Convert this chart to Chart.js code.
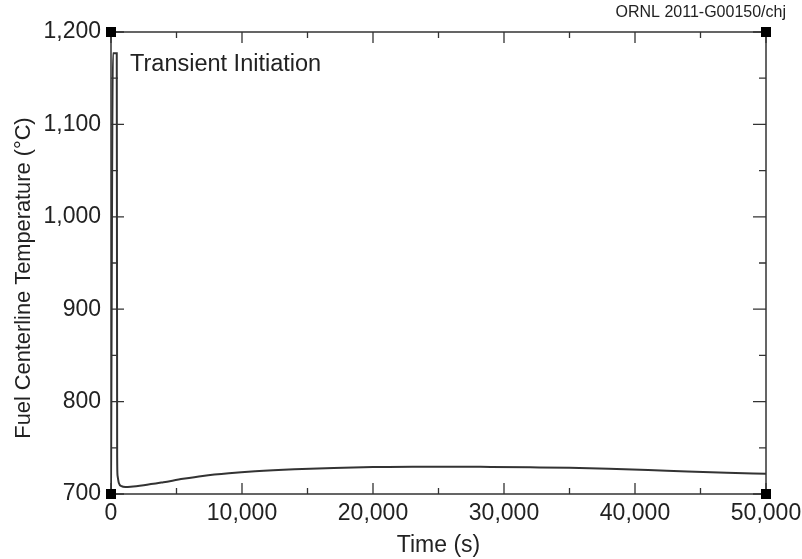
<!DOCTYPE html>
<html>
<head>
<meta charset="utf-8">
<script src="https://cdn.jsdelivr.net/npm/chart.js@4.4.1/dist/chart.umd.min.js"></script>
<style>
  html, body { margin: 0; padding: 0; background: #ffffff; }
  #wrap { position: relative; width: 802px; height: 559px; }
</style>
</head>
<body>
<div id="wrap"><canvas id="c" width="802" height="559"></canvas></div>
<script>
// Fuel centerline temperature history after the transient initiation
const timeSeconds = [0, 150, 440, 470, 500, 600, 800, 1100, 1500, 2500, 4000, 5500, 7000, 9000,
  11000, 14000, 17000, 20000, 23000, 26000, 29000, 32000, 35000, 38000, 41000, 44000, 47000, 50000];
const temperatureC = [705, 1177, 1177, 740, 720, 712, 708.5, 707.5, 707.8, 709.5, 712.8, 716.4, 719.5, 722.4,
  724.5, 726.7, 728.2, 729.1, 729.6, 729.6, 729.3, 728.9, 728.4, 727.4, 726, 724.3, 723, 722];

const xTickValues = [0, 10000, 20000, 30000, 40000, 50000];
const yTickValues = [700, 800, 900, 1000, 1100, 1200];

const yAxisTitle = 'Fuel Centerline Temperature (\u00B0C)';
const annotationText = 'Transient Initiation';
const creditText = 'ORNL 2011-G00150/chj';

const FONT = "'Liberation Sans', Arial, Helvetica, sans-serif";
const INK = '#222222';

const points = timeSeconds.map((t, i) => ({ x: t, y: temperatureC[i] }));

// Frame, inward tick marks, corner squares and text annotations
const framePlugin = {
  id: 'frame',
  afterDatasetsDraw(chart) {
    const { ctx, chartArea: a, scales } = chart;
    const xs = scales.x, ys = scales.y;
    ctx.save();
    ctx.strokeStyle = '#333333';
    ctx.lineWidth = 1.5;
    ctx.strokeRect(a.left, a.top, a.right - a.left, a.bottom - a.top);

    ctx.lineWidth = 1.3;
    ctx.beginPath();
    xs.ticks.forEach(t => {
      const px = xs.getPixelForValue(t.value);
      const len = xTickValues.includes(t.value) ? 11 : 6;
      ctx.moveTo(px, a.bottom); ctx.lineTo(px, a.bottom - len);
      ctx.moveTo(px, a.top); ctx.lineTo(px, a.top + len);
    });
    ys.ticks.forEach(t => {
      const py = ys.getPixelForValue(t.value);
      const len = yTickValues.includes(t.value) ? 13 : 7;
      ctx.moveTo(a.left, py); ctx.lineTo(a.left + len, py);
      ctx.moveTo(a.right, py); ctx.lineTo(a.right - len, py);
    });
    ctx.stroke();

    ctx.fillStyle = '#000000';
    const s = 10;
    [[a.left, a.top], [a.right, a.top], [a.left, a.bottom], [a.right, a.bottom]].forEach(([cx, cy]) => {
      ctx.fillRect(cx - s / 2, cy - s / 2, s, s);
    });

    ctx.fillStyle = INK;
    ctx.font = '23.5px ' + FONT;
    ctx.textAlign = 'left';
    ctx.textBaseline = 'middle';
    ctx.fillText(annotationText, 130, 65);

    ctx.font = '16px ' + FONT;
    ctx.textAlign = 'right';
    ctx.fillText(creditText, 786, 13);

    // vertical axis title
    ctx.save();
    ctx.translate(24, 278);
    ctx.rotate(-Math.PI / 2);
    ctx.textAlign = 'center';
    ctx.font = '21.8px ' + FONT;
    ctx.fillText(yAxisTitle, 0, 0);
    ctx.restore();

    ctx.restore();
  }
};

new Chart(document.getElementById('c'), {
  type: 'line',
  data: {
    datasets: [{
      data: points,
      borderColor: '#333333',
      borderWidth: 2,
      pointRadius: 0,
      fill: false,
      cubicInterpolationMode: 'monotone'
    }]
  },
  options: {
    responsive: false,
    animation: false,
    events: [],
    layout: { padding: { top: 32, right: 36, bottom: 0, left: 0 } },
    plugins: { legend: { display: false }, tooltip: { enabled: false } },
    scales: {
      x: {
        type: 'linear',
        min: 0, max: 50000,
        afterFit(scale) {
          scale.height = 65;
          scale.paddingLeft = 0;
          scale.paddingRight = 0;
        },
        grid: { display: false, drawTicks: false },
        border: { display: false },
        ticks: {
          stepSize: 5000,
          autoSkip: false,
          maxRotation: 0,
          padding: 6,
          color: INK,
          font: { family: FONT, size: 23 },
          callback: v => xTickValues.includes(v) ? v.toLocaleString('en-US') : ''
        },
        title: {
          display: true,
          text: 'Time (s)',
          color: INK,
          font: { family: FONT, size: 23 },
          padding: { top: 0, bottom: 0 }
        }
      },
      y: {
        type: 'linear',
        min: 700, max: 1200,
        afterFit(scale) {
          scale.width = 111;
          scale.paddingTop = 0;
          scale.paddingBottom = 0;
        },
        grid: { display: false, drawTicks: false },
        border: { display: false },
        ticks: {
          stepSize: 50,
          autoSkip: false,
          padding: 10,
          color: INK,
          font: { family: FONT, size: 23 },
          callback: v => yTickValues.includes(v) ? v.toLocaleString('en-US') : ''
        },
        title: { display: false }
      }
    }
  },
  plugins: [framePlugin]
});
</script>
</body>
</html>
